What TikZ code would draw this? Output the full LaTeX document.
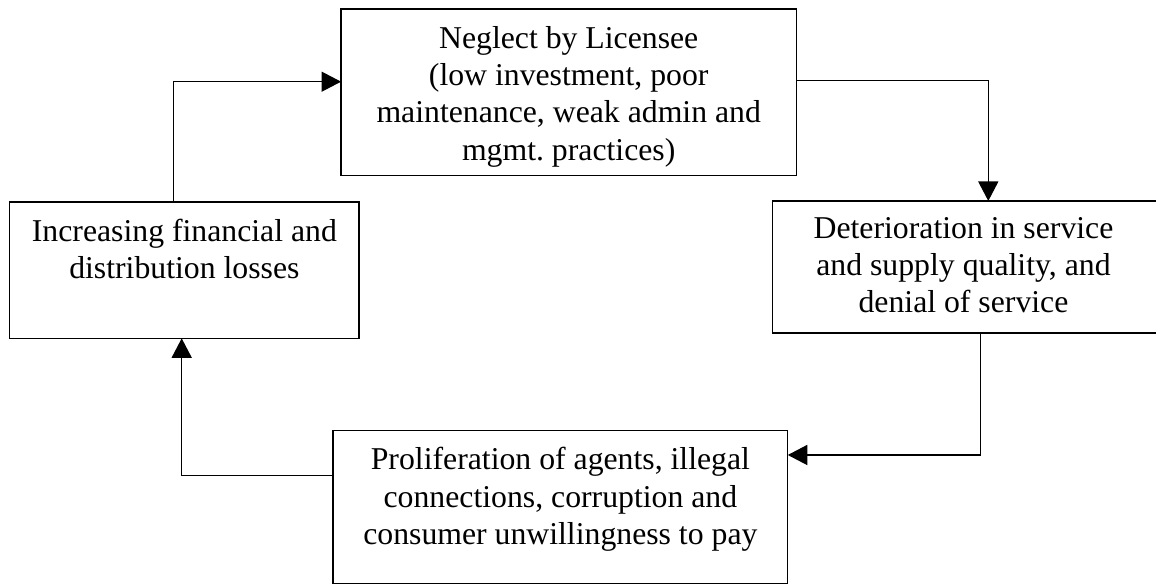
\documentclass[tikz,border=0pt]{standalone}
\usepackage{fontspec}
\setmainfont{Liberation Serif}
\usetikzlibrary{arrows.meta}
\frenchspacing
\tikzset{
  box/.style={draw=black, line width=0.55pt, inner sep=0pt, outer sep=0pt, rectangle},
  boxtext/.style={anchor=base, inner sep=0pt, outer sep=0pt},
  conn/.style={draw=black, line width=0.55pt, -{Triangle[length=7.8pt,width=8pt]}},
}
\newcommand{\btext}[2]{\parbox[t]{#1}{\centering\fontsize{12.7}{14.9}\selectfont #2}}
\begin{document}
\begin{tikzpicture}[x=0.4pt,y=-0.4pt]
\useasboundingbox (0,0) rectangle (1156,584);
% boxes
\node[box, minimum width=182.1pt, minimum height=66.7pt] (T) at (568.7,92.4) {};
\node[box, minimum width=139.7pt, minimum height=54.5pt] (L) at (184.4,270.2) {};
\node[box, minimum width=153.8pt, minimum height=52.8pt] (R) at (964.8,267) {};
\node[box, minimum width=181.9pt, minimum height=61.2pt] (B) at (560.4,506.8) {};
% texts
\node[boxtext] (Tt) at (568.7,48.3) {\btext{180pt}{Neglect by Licensee\\(low investment, poor\\maintenance, weak admin and\\mgmt. practices)}};
\node[boxtext] (Lt) at (184.4,241.7) {\btext{138pt}{Increasing financial and\\distribution losses}};
\node[boxtext] (Rt) at (963.5,238.3) {\btext{152pt}{Deterioration in service\\and supply quality, and\\denial of service}};
\node[boxtext] (Bt) at (560.4,470) {\btext{180pt}{Proliferation of agents, illegal\\connections, corruption and\\consumer unwillingness to pay}};
% bend points
\coordinate (a1) at (173.7,81.7);
\coordinate (a2) at (988.3,80.3);
\coordinate (a3) at (980.3,455);
\coordinate (a4) at (181.7,475.7);
% connectors
\draw[conn] (a1 |- L.north) -- (a1) -- (a1 -| T.west);
\draw[conn] (a2 -| T.east) -- (a2) -- (a2 |- R.north);
\draw[conn] (a3 |- R.south) -- (a3) -- (a3 -| B.east);
\draw[conn] (a4 -| B.west) -- (a4) -- (a4 |- L.south);
\end{tikzpicture}
\end{document}
